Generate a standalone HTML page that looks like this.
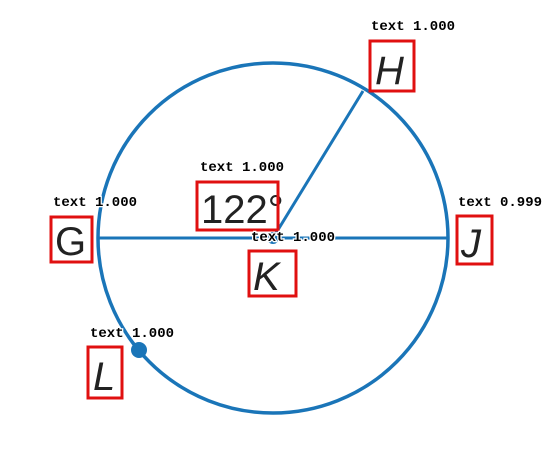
<!DOCTYPE html>
<html><head><style>
body{margin:0;background:#fff;}
svg{display:block;}
.lbl{font-family:"Liberation Sans",sans-serif;font-style:italic;font-size:40px;fill:#222;}
.ann{font-family:"Liberation Mono",monospace;font-size:14px;font-weight:bold;fill:#000;stroke:#fff;stroke-width:2.5px;paint-order:stroke;}
.box{fill:none;stroke:#e01010;stroke-width:3;}
</style></head><body>
<svg width="546" height="449">
<circle cx="273" cy="238" r="175" fill="none" stroke="#1a75b8" stroke-width="3.5"/>
<line x1="97" y1="238" x2="448" y2="238" stroke="#1a75b8" stroke-width="3"/>
<line x1="273" y1="238" x2="363" y2="91" stroke="#1a75b8" stroke-width="3"/>
<circle cx="273" cy="238" r="6" fill="#1a75b8"/>
<circle cx="139" cy="350" r="8" fill="#1a75b8"/>

<text class="lbl" x="375" y="84">H</text>
<rect class="box" x="370" y="41" width="44" height="50"/>
<text class="ann" x="371" y="30">text 1.000</text>

<text class="lbl" x="55" y="255" style="font-style:normal">G</text>
<rect class="box" x="51" y="217" width="41" height="45"/>
<text class="ann" x="53" y="206">text 1.000</text>

<text class="lbl" x="201" y="223" style="font-style:normal">122°</text>
<rect class="box" x="197" y="182" width="81" height="48"/>
<text class="ann" x="200" y="171">text 1.000</text>

<text class="lbl" x="253" y="290">K</text>
<rect class="box" x="249" y="251" width="47" height="45"/>
<text class="ann" x="251" y="241">text 1.000</text>

<text class="lbl" x="461" y="257">J</text>
<rect class="box" x="457" y="216" width="35" height="48"/>
<text class="ann" x="458" y="206">text 0.999</text>

<text class="lbl" x="93" y="390">L</text>
<rect class="box" x="88" y="347" width="34" height="51"/>
<text class="ann" x="90" y="337">text 1.000</text>
</svg>
</body></html>
